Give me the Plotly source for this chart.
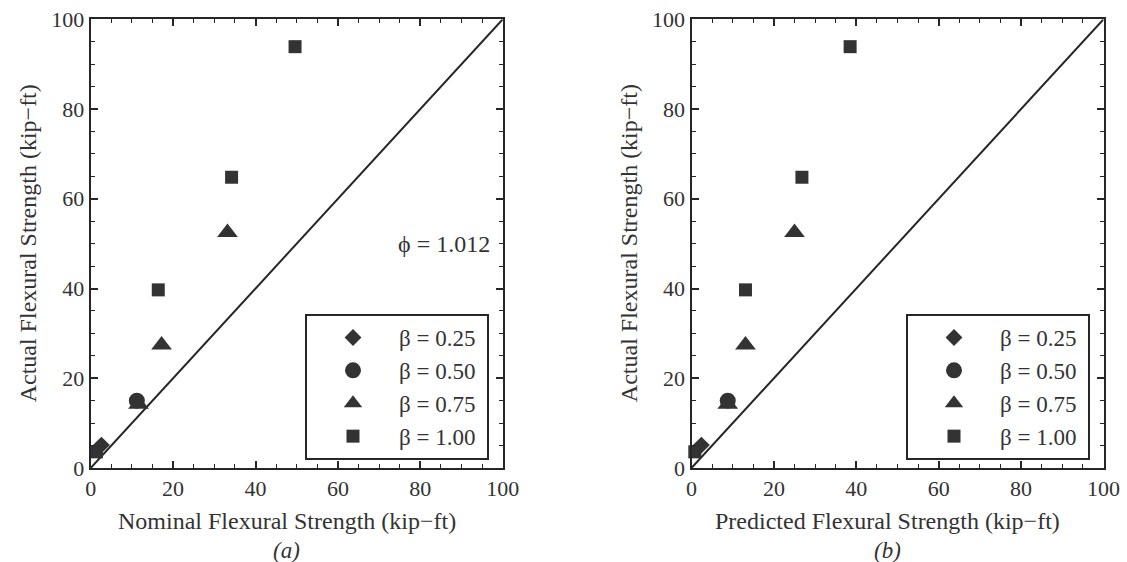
import plotly.graph_objects as go

# Measured flexural strengths (kip-ft)
beta_labels = ["β = 0.25", "β = 0.50", "β = 0.75", "β = 1.00"]
beta_symbols = ["diamond", "circle", "triangle-up", "square"]

# Actual strength, one list per beta group
actual_025 = [5.1]
actual_050 = [15.0]
actual_075 = [14.2, 27.4, 52.5]
actual_100 = [3.6, 39.7, 64.8, 93.9]

# Nominal strength (panel a)
nominal_025 = [2.6]
nominal_050 = [11.2]
nominal_075 = [11.6, 17.2, 33.2]
nominal_100 = [1.4, 16.4, 34.2, 49.6]

# Predicted strength (panel b)
predicted_025 = [2.4]
predicted_050 = [8.8]
predicted_075 = [8.8, 13.1, 25.0]
predicted_100 = [0.8, 13.1, 26.8, 38.5]

# Reference line
line_x = [0, 100]
line_y = [0, 100]

tick_vals = [0, 20, 40, 60, 80, 100]
phi_text = "ϕ = 1.012"

W, H = 1127, 562
FONT = "Liberation Serif"
TXT = "#333333"
INK = "#262626"
MARK = "#333333"
FS = 22
FS_TITLE = 24
FS_LEG = 23

# plot box pixel positions
ax_left = [90.7, 691.5]
ax_w = 412.0
ax_top, ax_bot = 19.3, 468.0

actual = [actual_025, actual_050, actual_075, actual_100]
panels = [
    [nominal_025, nominal_050, nominal_075, nominal_100],
    [predicted_025, predicted_050, predicted_075, predicted_100],
]
marker_sizes = [13, 16, 18, 13]

fig = go.Figure()
for p, xs_group in enumerate(panels):
    xa = "x" if p == 0 else "x2"
    ya = "y" if p == 0 else "y2"
    leg = "legend" if p == 0 else "legend2"
    fig.add_trace(go.Scatter(
        x=line_x, y=line_y, mode="lines", xaxis=xa, yaxis=ya,
        line=dict(color=INK, width=2), showlegend=False, hoverinfo="skip"))
    for i in range(4):
        fig.add_trace(go.Scatter(
            x=xs_group[i], y=actual[i], mode="markers", xaxis=xa, yaxis=ya,
            name=beta_labels[i] + "\u00a0", legend=leg, cliponaxis=False,
            marker=dict(symbol=beta_symbols[i], size=marker_sizes[i], color=MARK,
                        line=dict(width=0))))

def axis_common(domain, anchor):
    return dict(
        domain=domain, anchor=anchor, range=[0, 100], tickvals=tick_vals,
        ticks="inside", ticklen=7, tickwidth=1.5, tickcolor=INK,
        minor=dict(dtick=5, tick0=0, ticks="inside", ticklen=4, tickwidth=1, tickcolor=INK),
        showline=True, linecolor=INK, linewidth=2, mirror="allticks",
        showgrid=False, zeroline=False,
        tickfont=dict(family=FONT, size=FS, color=TXT),
    )

ydom = [1 - ax_bot / H, 1 - ax_top / H]
for p in range(2):
    xdom = [ax_left[p] / W, (ax_left[p] + ax_w) / W]
    sfx = "" if p == 0 else "2"
    fig.layout["xaxis" + sfx] = axis_common(xdom, "y" + sfx)
    fig.layout["yaxis" + sfx] = axis_common(ydom, "x" + sfx)

legend_style = dict(
    font=dict(family=FONT, size=FS_LEG, color=TXT), bgcolor="white",
    bordercolor=INK, borderwidth=2, itemwidth=82,
    xanchor="left", yanchor="top", y=1 - 314 / H, itemclick=False,
)
fig.update_layout(
    legend=dict(x=305 / W, **legend_style),
    legend2=dict(x=906 / W, **legend_style),
)

x_titles = ["Nominal Flexural Strength (kip−ft)", "Predicted Flexural Strength (kip−ft)"]
sub_titles = ["<i>(a)</i>", "<i>(b)</i>"]
annos = []
for p in range(2):
    cx = (ax_left[p] + ax_w / 2 - 10) / W
    annos.append(dict(text=x_titles[p], x=cx, y=1 - 521 / H, xref="paper", yref="paper",
                      showarrow=False, xanchor="center", yanchor="middle",
                      font=dict(family=FONT, size=FS_TITLE, color=TXT)))
    annos.append(dict(text=sub_titles[p], x=cx, y=1 - 550 / H, xref="paper", yref="paper",
                      showarrow=False, xanchor="center", yanchor="middle",
                      height=24, valign="middle",
                      font=dict(family=FONT, size=23, color=TXT)))
    annos.append(dict(text="Actual Flexural Strength (kip−ft)", textangle=-90,
                      x=(ax_left[p] - 63) / W, y=(ydom[0] + ydom[1]) / 2,
                      xref="paper", yref="paper", showarrow=False,
                      xanchor="center", yanchor="middle",
                      font=dict(family=FONT, size=FS_TITLE, color=TXT)))
annos.append(dict(text=phi_text, x=97.3, y=50, xref="x", yref="y", showarrow=False,
                  xanchor="right", yanchor="middle",
                  font=dict(family=FONT, size=FS_TITLE, color=TXT)))

fig.update_layout(
    width=W, height=H, margin=dict(l=0, r=0, t=0, b=0, autoexpand=False),
    paper_bgcolor="white", plot_bgcolor="white",
    annotations=annos, showlegend=True,
)

fig.write_html("out.html")
